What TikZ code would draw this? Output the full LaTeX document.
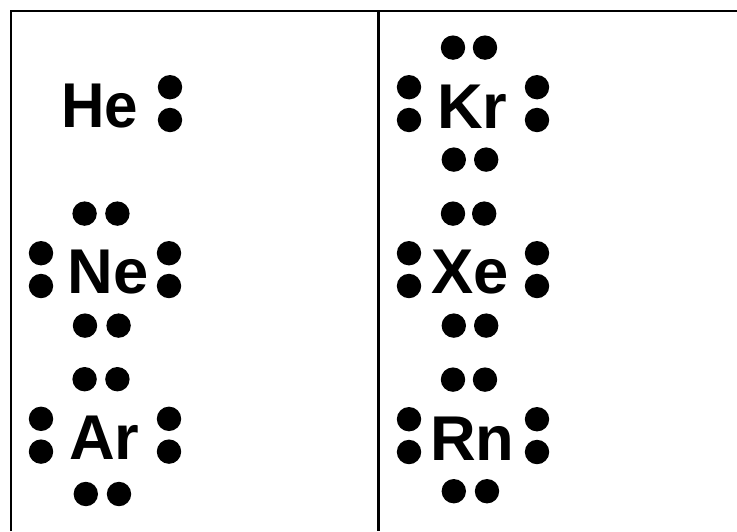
\documentclass[tikz,border=0pt]{standalone}
\usepackage{fontspec}
\setmainfont{Liberation Sans}
\usetikzlibrary{math}

\begin{document}
\begin{tikzpicture}[elem/.style={font=\bfseries\fontsize{45}{54}\selectfont, inner sep=0pt},
                    edot/.style={fill=black}]
\tikzmath{
\Wd=18.425;
\Ht=13.275;
\mg=0.27;
\xm=9.46;
\rad=0.305;
\dx=1.6;
\dy=0.41;
\dv=1.4;
}
\useasboundingbox (0,0) rectangle (\Wd,-\Ht);

% table lines
\draw[line width=1.7pt] (\mg,-\Ht) -- (\mg,-\mg) -- (\Wd,-\mg);
\draw[line width=1.7pt] (\xm,-\mg) -- (\xm,-\Ht);

%%%%%%%%%% He
\begin{scope}[shift={(2.65,-2.59)}]
\node[elem, xscale=0.95] (he) at (-0.15,-0.07) {He};
\fill[edot] (\dx,\dy) circle (\rad) (\dx,-\dy) circle (\rad);
\end{scope}

%%%%%%%%%% Ne
\begin{scope}[shift={(2.625,-6.74)}]
\node[elem] (ne) at (0.07,-0.07) {Ne};
\fill[edot] (-\dx,\dy) circle (\rad) (-\dx,-\dy) circle (\rad);
\fill[edot] (\dx,\dy) circle (\rad) (\dx,-\dy) circle (\rad);
\fill[edot] (-0.51,\dv) circle (\rad) (0.31,\dv) circle (\rad);
\fill[edot] (-0.5,-\dv) circle (\rad) (0.34,-\dv) circle (\rad);
\end{scope}

%%%%%%%%%% Ar
\begin{scope}[shift={(2.625,-10.88)}]
\node[elem] (ar) at (-0.02,-0.07) {Ar};
\fill[edot] (-\dx,\dy) circle (\rad) (-\dx,-\dy) circle (\rad);
\fill[edot] (\dx,\dy) circle (\rad) (\dx,-\dy) circle (\rad);
\fill[edot] (-0.51,\dv) circle (\rad) (0.31,\dv) circle (\rad);
\fill[edot] (-0.48,-1.47) circle (\rad) (0.35,-1.47) circle (\rad);
\end{scope}

%%%%%%%%%% Kr
\begin{scope}[shift={(11.825,-2.59)}]
\node[elem] (kr) at (-0.02,-0.08) {Kr};
\fill[edot] (-\dx,\dy) circle (\rad) (-\dx,-\dy) circle (\rad);
\fill[edot] (\dx,\dy) circle (\rad) (\dx,-\dy) circle (\rad);
\fill[edot] (-0.5,\dv) circle (\rad) (0.3,\dv) circle (\rad);
\fill[edot] (-0.48,-\dv) circle (\rad) (0.33,-\dv) circle (\rad);
\end{scope}

%%%%%%%%%% Xe
\begin{scope}[shift={(11.825,-6.74)}]
\node[elem] (xe) at (-0.07,-0.07) {Xe};
\fill[edot] (-\dx,\dy) circle (\rad) (-\dx,-\dy) circle (\rad);
\fill[edot] (\dx,\dy) circle (\rad) (\dx,-\dy) circle (\rad);
\fill[edot] (-0.5,\dv) circle (\rad) (0.28,\dv) circle (\rad);
\fill[edot] (-0.48,-\dv) circle (\rad) (0.33,-\dv) circle (\rad);
\end{scope}

%%%%%%%%%% Rn
\begin{scope}[shift={(11.825,-10.89)}]
\node[elem] (rn) at (-0.02,-0.07) {Rn};
\fill[edot] (-\dx,\dy) circle (\rad) (-\dx,-\dy) circle (\rad);
\fill[edot] (\dx,\dy) circle (\rad) (\dx,-\dy) circle (\rad);
\fill[edot] (-0.5,\dv) circle (\rad) (0.3,\dv) circle (\rad);
\fill[edot] (-0.48,-1.39) circle (\rad) (0.35,-1.39) circle (\rad);
\end{scope}

\end{tikzpicture}
\end{document}
